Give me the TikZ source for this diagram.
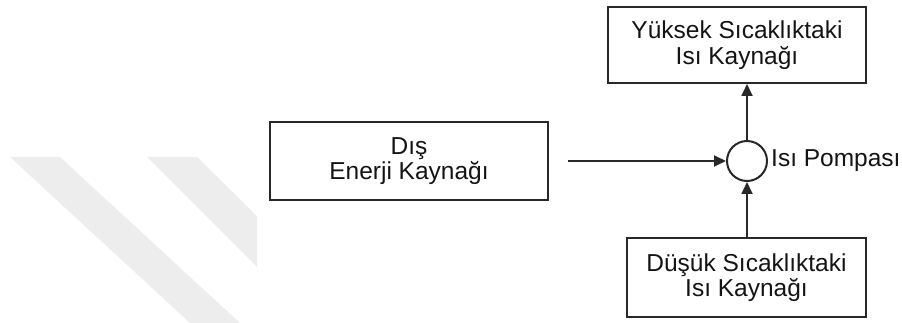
\documentclass[tikz,border=0pt]{standalone}
\usepackage{fontspec}
\setmainfont{Liberation Sans}
\usetikzlibrary{arrows.meta}
\definecolor{linecol}{RGB}{40,40,40}
\definecolor{textcol}{RGB}{20,20,20}
\definecolor{stripecol}{RGB}{237,237,237}
\begin{document}
\begin{tikzpicture}[x=1pt,y=-1pt,
  font=\fontsize{24.5}{25.5}\selectfont,
  box/.style={draw=linecol,line width=2pt,rectangle,inner sep=0pt,
    align=center,text=textcol},
  pumpnode/.style={draw=linecol,line width=2pt,circle,minimum size=40pt,inner sep=0pt},
  arr/.style={draw=linecol,line width=1.8pt,-{Triangle[length=12pt,width=11pt]}},
  stripe/.style={fill=stripecol,draw=none}]
\useasboundingbox (0,0) rectangle (902,323);
% background stripes
\fill[stripe] (10,157) -- (60,157) -- (240,323) -- (190,323) -- cycle;
\fill[stripe] (147,157) -- (197,157) -- (257,216) -- (257,267) -- cycle;
% blocks
\node[box,minimum width=278pt,minimum height=78pt] (ext) at (409,161)
  {Dış\\Enerji Kaynağı};
\node[box,minimum width=258pt,minimum height=76pt] (hot) at (737,45)
  {Yüksek Sıcaklıktaki\\Isı Kaynağı};
\node[box,minimum width=239pt,minimum height=79pt] (cold) at (746.5,277.5)
  {Düşük Sıcaklıktaki\\Isı Kaynağı};
\node[pumpnode] (pump) at (747,161) {};
\node[anchor=west,text=textcol,inner sep=0pt] (pumplabel) at ([xshift=3pt]pump.east) {Isı Pompası};
% connectors
\draw[arr] ([xshift=19pt]ext.east) -- (pump.west);
\draw[arr] (pump.north) -- (pump.north |- hot.south);
\draw[arr] (pump.south |- cold.north) -- (pump.south);
\end{tikzpicture}
\end{document}
